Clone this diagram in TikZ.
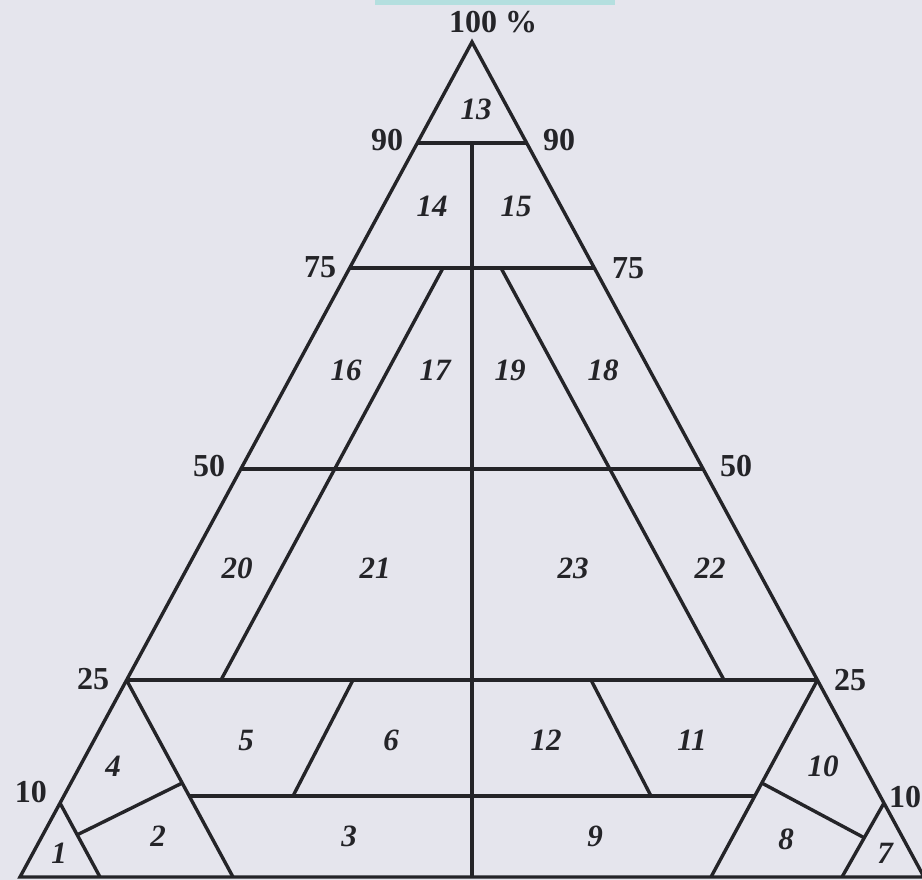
\documentclass[tikz,border=0pt]{standalone}
\usepackage{fontspec}
\setmainfont{Liberation Serif}
\usetikzlibrary{calc}
\definecolor{bg}{RGB}{229,229,237}
\definecolor{ink}{RGB}{36,36,40}
\definecolor{barcol}{RGB}{180,223,223}
\tikzset{
  edge/.style={draw=ink, line width=3.4pt},
  reg/.style={inner sep=0pt, text=ink, font=\fontsize{31}{31}\selectfont\bfseries\itshape},
  axl/.style={inner sep=0pt, text=ink, font=\fontsize{32}{32}\selectfont\bfseries}
}
\begin{document}
\begin{tikzpicture}[x=1pt,y=-1pt]
\fill[bg] (0,0) rectangle (922,880);
\useasboundingbox (0,0) rectangle (922,880);
\fill[barcol] (375,0) rectangle (615,5);
% outer corners
\coordinate (A) at (472,42);
\coordinate (BL) at (20,877);
\coordinate (BR) at (924,877);
% left edge points
\coordinate (L90) at (417.3,143);
\coordinate (L75) at (349.7,268);
\coordinate (L50) at (241,469);
\coordinate (L25) at (126.5,680);
\coordinate (L10) at (60,803);
% right edge points
\coordinate (R90) at (526.7,143);
\coordinate (R75) at (594.3,268);
\coordinate (R50) at (703,469);
\coordinate (R25) at (817.5,680);
\coordinate (R10) at (884,803);
% centre line
\coordinate (C90) at (472,143);
\coordinate (CB) at (472,877);
% inner slanted lines
\coordinate (D1t) at (443,268);
\coordinate (D1b) at (221,680);
\coordinate (D2t) at (501,268);
\coordinate (D2b) at (724,680);
\coordinate (E1t) at (353,680);
\coordinate (E1b) at (293,796);
\coordinate (E2t) at (591,680);
\coordinate (E2b) at (651,796);
\coordinate (LS) at (233,877);
\coordinate (RS) at (711,877);
\coordinate (SL) at (100,877);
\coordinate (SR) at (842,877);
\coordinate (T1) at ($(L25)!0.589!(LS)$);
\coordinate (T2) at ($(R25)!0.589!(RS)$);
\coordinate (F1a) at ($(L25)!0.523!(LS)$);
\coordinate (F1b) at ($(L10)!0.43!(SL)$);
\coordinate (F2a) at ($(R25)!0.523!(RS)$);
\coordinate (F2b) at ($(R10)!0.47!(SR)$);
% drawing
\draw[edge, line join=miter] (A) -- (BL) -- (BR) -- cycle;
\draw[edge] (L90) -- (R90);
\draw[edge] (L75) -- (R75);
\draw[edge] (L50) -- (R50);
\draw[edge] (L25) -- (R25);
\draw[edge] (T1) -- (T2);
\draw[edge] (C90) -- (CB);
\draw[edge] (D1t) -- (D1b);
\draw[edge] (D2t) -- (D2b);
\draw[edge] (E1t) -- (E1b);
\draw[edge] (E2t) -- (E2b);
\draw[edge] (L25) -- (LS);
\draw[edge] (R25) -- (RS);
\draw[edge] (L10) -- (SL);
\draw[edge] (R10) -- (SR);
\draw[edge] (F1a) -- (F1b);
\draw[edge] (F2a) -- (F2b);
% axis labels
\node[axl] (a100) at (493,22) {100 \%};
\node[axl] (a90l) at (387,140) {90};
\node[axl] (a90r) at (559,140) {90};
\node[axl] (a75l) at (320,267) {75};
\node[axl] (a75r) at (628,268) {75};
\node[axl] (a50l) at (209,466) {50};
\node[axl] (a50r) at (736,466) {50};
\node[axl] (a25l) at (93,679) {25};
\node[axl] (a25r) at (850,680) {25};
\node[axl] (a10l) at (31,792) {10};
\node[axl] (a10r) at (905,797) {10};
% region labels
\node[reg] (r13) at (476,109) {13};
\node[reg] (r14) at (432,206) {14};
\node[reg] (r15) at (516,206) {15};
\node[reg] (r16) at (346,370) {16};
\node[reg] (r17) at (435,370) {17};
\node[reg] (r19) at (510,370) {19};
\node[reg] (r18) at (603,370) {18};
\node[reg] (r20) at (237,568) {20};
\node[reg] (r21) at (375,568) {21};
\node[reg] (r23) at (573,568) {23};
\node[reg] (r22) at (710,568) {22};
\node[reg] (r5) at (246,740) {5};
\node[reg] (r6) at (391,740) {6};
\node[reg] (r12) at (546,740) {12};
\node[reg] (r11) at (692,740) {11};
\node[reg] (r4) at (113,766) {4};
\node[reg] (r10) at (823,766) {10};
\node[reg] (r2) at (158,836) {2};
\node[reg] (r3) at (349,836) {3};
\node[reg] (r9) at (595,836) {9};
\node[reg] (r8) at (786,839) {8};
\node[reg] (r1) at (59,853) {1};
\node[reg] (r7) at (885,853) {7};
\end{tikzpicture}
\end{document}
